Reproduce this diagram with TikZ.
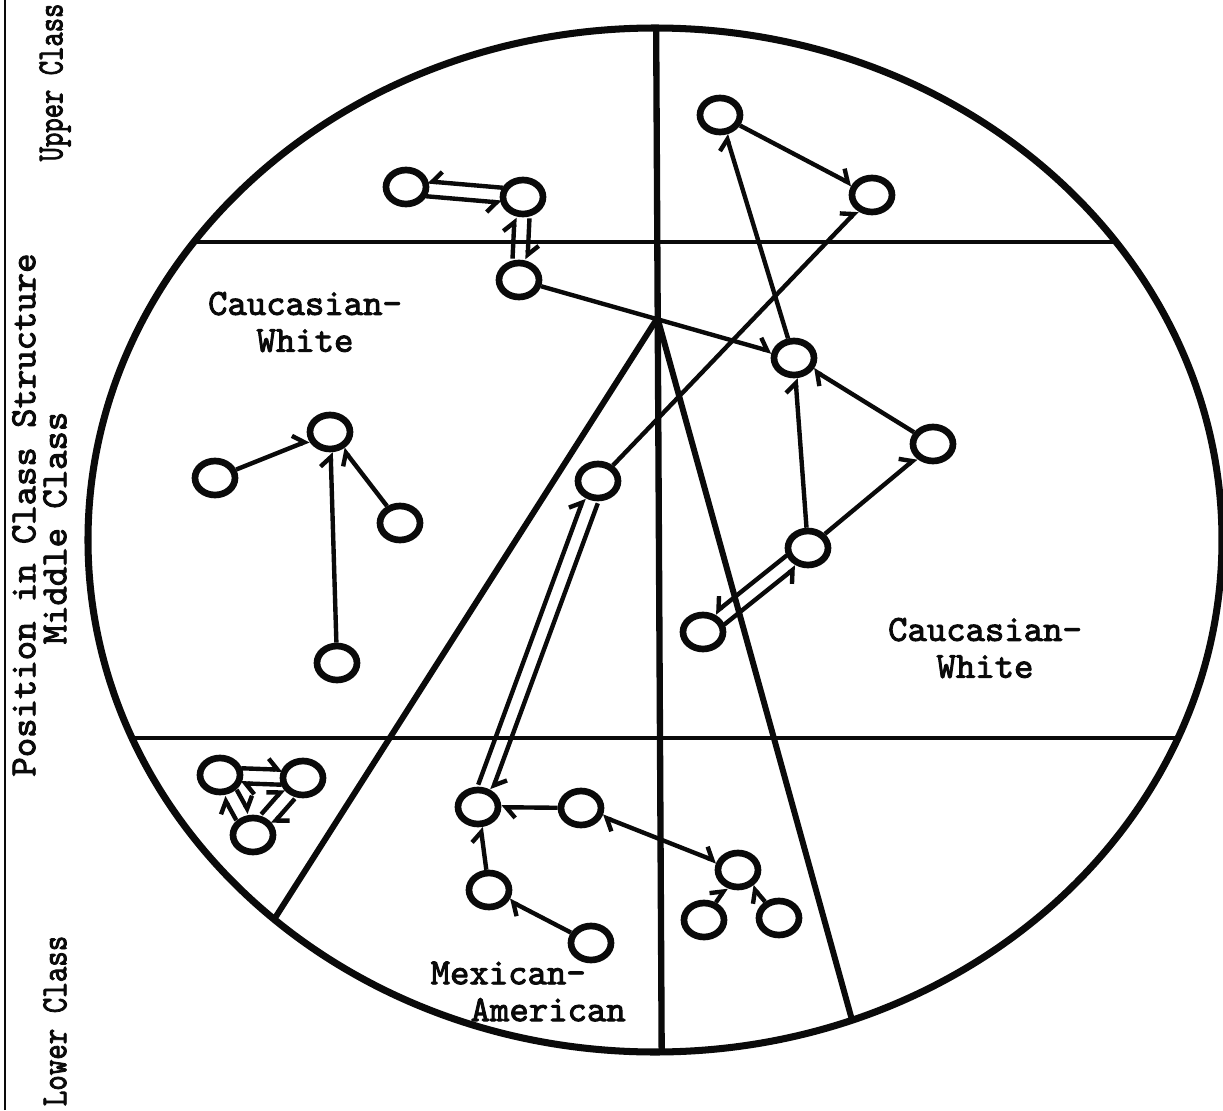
\documentclass[tikz,border=0pt]{standalone}
\usepackage{fontspec}
\newfontfamily\typer{lmmono10-regular.otf}[FakeBold=2.5]
\usepackage{graphicx}
\usepackage{tikz}
\usetikzlibrary{arrows.meta,shapes.geometric,calc}
\definecolor{ink}{HTML}{0A0A0A}
\tikzset{
  member/.style={ellipse,draw=ink,line width=1.9pt,fill=white,
                 minimum width=0.40cm,minimum height=0.34cm,inner sep=0pt},
  tie/.style={draw=ink,line width=1.25pt,
              -{Straight Barb[harpoon,length=2.6pt,width=6pt]}},
  tieswap/.style={draw=ink,line width=1.25pt,
              -{Straight Barb[harpoon,swap,length=2.6pt,width=6pt]}},
  tieboth/.style={draw=ink,line width=1.25pt,
              {Straight Barb[harpoon,length=2.6pt,width=6pt]}-{Straight Barb[harpoon,length=2.6pt,width=6pt]}},
  lane/.style={shorten >=0.21cm,shorten <=0.21cm},
  divide/.style={draw=ink,line width=1.7pt},
  typed/.style={font=\typer\fontsize{10.5}{10.5}\selectfont,text=ink,inner sep=0pt}
}
\newcommand{\gapw}{0.075cm}
\newcommand{\lanel}[2]{\draw[tie,lane] ($(#1)!\gapw!90:(#2)$) -- ($(#2)!\gapw!-90:(#1)$);}
\newcommand{\laner}[2]{\draw[tieswap,lane] ($(#1)!\gapw!-90:(#2)$) -- ($(#2)!\gapw!90:(#1)$);}
\begin{document}
\begin{tikzpicture}
  \useasboundingbox (0,0) rectangle (12.23,11.10);
  \fill[white] (0,0) rectangle (12.23,11.10);
  % Margin rule
  \draw[ink,line width=0.4pt] (0.05,0) -- (0.05,11.10);
  % Axis labels
  \node[typed,rotate=90] (axis) at (0.24,5.95) {Position in Class Structure};
  \node[typed,rotate=90,anchor=west] (upper) at (0.55,9.48)
    {\scalebox{0.74}[1]{Upper Class}};
  \node[typed,rotate=90] (middle) at (0.55,5.82) {Middle Class};
  \node[typed,rotate=90,anchor=east] (lower) at (0.55,1.75)
    {\scalebox{0.8}[1]{Lower Class}};
  % Community circle and its divisions
  \begin{scope}
    \clip (6.55,5.70) ellipse [x radius=5.67, y radius=5.12];
    \draw[divide,line width=1.2pt] (0,8.68) -- (12.23,8.68);
    \draw[divide,line width=1.2pt] (0,3.72) -- (12.23,3.72);
    \draw[divide,line width=1.8pt] (6.56,11.10) -- (6.62,0);
    \coordinate (apex) at (6.575,7.92);
    \draw[divide] (apex) -- ($(apex)!1.2!(2.75,1.92)$);
    \draw[divide] (apex) -- ($(apex)!1.2!(8.52,0.90)$);
  \end{scope}
  \draw[divide,line width=2pt] (6.55,5.70) ellipse [x radius=5.67, y radius=5.12];
  % Group labels
  \node[typed,align=center] (cw1) at (3.05,7.88) {Caucasian-\\White};
  \node[typed,align=center] (cw2) at (9.85,4.62) {Caucasian-\\White};
  \node[typed,align=left,anchor=north west] (ma) at (4.30,1.49)
    {Mexican-\\\hspace*{0.4cm}American};
  % Upper class
  \node[member] (a1) at (4.06,9.23) {};
  \node[member] (a2) at (5.23,9.13) {};
  \node[member] (a3) at (5.19,8.30) {};
  \node[member] (c1) at (7.20,9.95) {};
  \node[member] (c2) at (8.72,9.15) {};
  % Middle class
  \node[member] (b1) at (7.94,7.52) {};
  \node[member] (e1) at (9.33,6.66) {};
  \node[member] (e2) at (8.08,5.62) {};
  \node[member] (e3) at (7.03,4.78) {};
  \node[member] (d1) at (5.98,6.29) {};
  \node[member] (f1) at (3.30,6.78) {};
  \node[member] (f2) at (2.15,6.32) {};
  \node[member] (f3) at (4.00,5.87) {};
  \node[member] (f4) at (3.37,4.47) {};
  % Lower class
  \node[member] (t1) at (2.20,3.35) {};
  \node[member] (t2) at (3.03,3.32) {};
  \node[member] (t3) at (2.53,2.75) {};
  \node[member] (g1) at (4.78,3.03) {};
  \node[member] (g2) at (5.81,3.02) {};
  \node[member] (g3) at (4.89,2.20) {};
  \node[member] (g4) at (5.91,1.67) {};
  \node[member] (h1) at (7.38,2.40) {};
  \node[member] (h2) at (7.04,1.90) {};
  \node[member] (h3) at (7.79,1.92) {};
  % Choices, one way
  \draw[tie] (c1) -- (c2);
  \draw[tie] (b1) -- (c1);
  \draw[tie] (d1) -- (c2);
  \draw[tie] (a3) -- (b1);
  \draw[tie] (e1) -- (b1);
  \draw[tie] (e2) -- (b1);
  \draw[tie] (e2) -- (e1);
  \draw[tie] (f2) -- (f1);
  \draw[tie] (f4) -- (f1);
  \draw[tie] (f3) -- (f1);
  \draw[tie] (g2) -- (g1);
  \draw[tie] (g3) -- (g1);
  \draw[tie] (g4) -- (g3);
  \draw[tie] (h2) -- (h1);
  \draw[tie] (h3) -- (h1);
  \draw[tieboth] (g2) -- (h1);
  % Choices, mutual
  \laner{a2}{a1} \laner{a1}{a2}
  \lanel{a3}{a2} \lanel{a2}{a3}
  \laner{e3}{e2} \laner{e2}{e3}
  \lanel{g1}{d1} \lanel{d1}{g1}
  \lanel{t1}{t2} \lanel{t2}{t1}
  \lanel{t3}{t1} \lanel{t1}{t3}
  \lanel{t2}{t3} \lanel{t3}{t2}
\end{tikzpicture}
\end{document}
